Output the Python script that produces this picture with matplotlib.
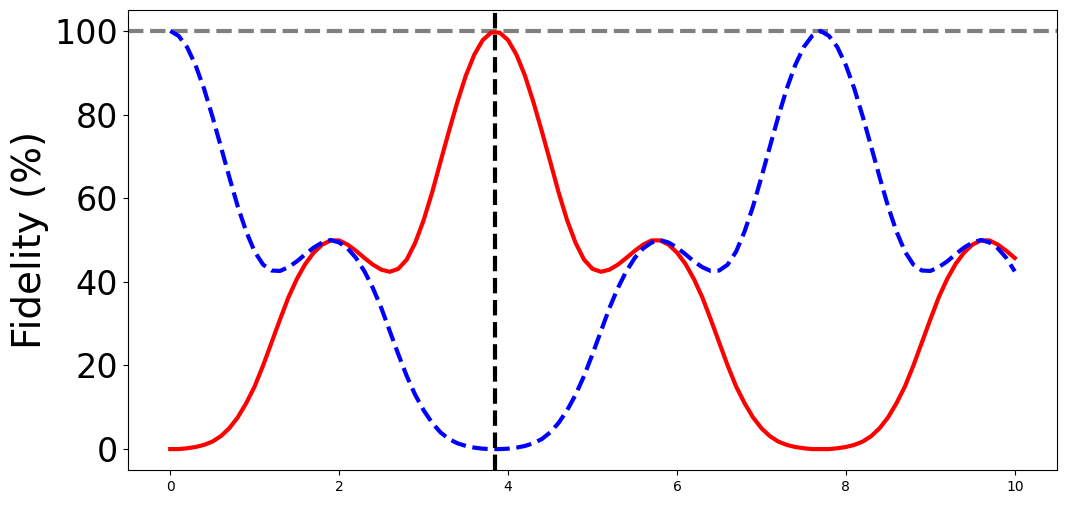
import numpy as np
import matplotlib
matplotlib.use("Agg")
import matplotlib.pyplot as plt

# time grid (0 to 10, step 0.1)
t = np.round(np.arange(0, 101) * 0.1, 2)

# red (solid) fidelity
red = [0.0, 0.0, 0.2, 0.5, 1.0, 1.8, 3.1, 5.0, 7.6, 11.0,
       15.0, 20.0, 25.5, 31.0, 36.3, 40.7, 44.3, 47.0, 48.9, 49.9,
       49.9, 48.9, 47.4, 45.7, 44.1, 42.9, 42.4, 43.1, 45.3, 49.3,
       54.7, 61.3, 68.7, 76.0, 83.0, 89.3, 94.3, 97.8, 99.6, 99.6,
       97.8, 94.3, 89.3, 83.0, 76.0, 68.7, 61.3, 54.7, 49.3, 45.3,
       43.1, 42.4, 42.9, 44.1, 45.7, 47.4, 48.9, 49.9, 49.9, 48.9,
       47.0, 44.3, 40.7, 36.3, 31.0, 25.5, 20.0, 15.0, 11.0, 7.6,
       5.0, 3.1, 1.8, 1.0, 0.5, 0.2, 0.0, 0.0, 0.0, 0.2,
       0.5, 1.0, 1.8, 3.1, 5.0, 7.6, 11.0, 15.0, 20.0, 25.5,
       31.0, 36.3, 40.7, 44.3, 47.0, 48.9, 49.9, 49.9, 48.9, 47.4,
       45.7]

# blue (dashed) fidelity
blue = [100.0, 98.8, 96.1, 91.8, 86.2, 79.5, 72.3, 65.0, 58.0, 52.0,
        47.2, 44.1, 42.7, 42.6, 43.5, 44.9, 46.6, 48.2, 49.4, 50.0,
        49.4, 48.0, 45.7, 42.5, 38.5, 33.7, 28.2, 22.7, 17.5, 13.0,
        9.3, 6.3, 4.0, 2.4, 1.4, 0.75, 0.35, 0.1, 0.0, 0.0,
        0.1, 0.35, 0.75, 1.4, 2.4, 4.0, 6.3, 9.3, 13.0, 17.5,
        22.7, 28.2, 33.7, 38.5, 42.5, 45.7, 48.0, 49.4, 50.0, 49.4,
        48.2, 46.6, 44.9, 43.5, 42.6, 42.7, 44.1, 47.2, 52.0, 58.0,
        65.0, 72.3, 79.5, 86.2, 91.8, 96.1, 98.8, 100.0, 98.8, 96.1,
        91.8, 86.2, 79.5, 72.3, 65.0, 58.0, 52.0, 47.2, 44.1, 42.7,
        42.6, 43.5, 44.9, 46.6, 48.2, 49.4, 50.0, 49.4, 48.0, 45.7,
        42.5]

ref_level = 100
t_mark = 3.85

fig = plt.figure(figsize=(10.67, 5.05), dpi=100)
ax = fig.add_axes([128/1067, 1 - 470/505, (1057-128)/1067, (470-10)/505])

ax.axhline(ref_level, color="gray", ls="--", lw=3, zorder=1)
ax.plot(t, red, color="red", lw=3, zorder=2)
ax.plot(t, blue, color="blue", ls="--", lw=3, zorder=3)
ax.axvline(t_mark, color="black", ls="--", lw=3, zorder=4)

ax.set_xlim(-0.5, 10.5)
ax.set_ylim(-5, 105)
ax.set_yticks([0, 20, 40, 60, 80, 100])
ax.set_xticks([0, 2, 4, 6, 8, 10])
ax.tick_params(axis="y", labelsize=24)
ax.tick_params(axis="x", labelsize=10)
ax.set_ylabel("Fidelity (%)", fontsize=28)

fig.savefig("out.png", dpi=100)
